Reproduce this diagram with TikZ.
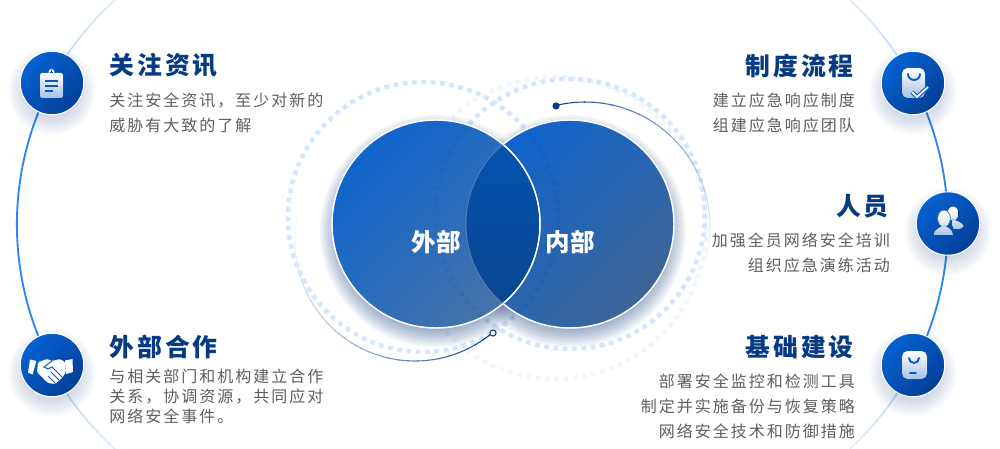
\documentclass[tikz,border=0pt]{standalone}
\usepackage{fontspec}
\usetikzlibrary{positioning,calc,backgrounds}
\newfontfamily\zhtext[LetterSpace=12.5]{Noto Sans CJK SC}
\newfontfamily\zhplain{Noto Sans CJK SC}
\definecolor{ringblue}{HTML}{2B85F5}
\definecolor{paleblue}{HTML}{B4D2FA}
\definecolor{dotblue}{HTML}{D4E5FE}
\definecolor{faintblue}{HTML}{F1F6FE}
\definecolor{headblue}{HTML}{063A82}
\definecolor{thinblue}{HTML}{0A3F8F}
\definecolor{bodygray}{HTML}{5E5E5E}
\definecolor{shadowblue}{HTML}{1F4480}
\definecolor{iconblue}{HTML}{0A57BE}
\definecolor{glyphblue}{HTML}{A4C2EA}
\definecolor{glyphmid}{HTML}{D8E5F7}
\definecolor{iconstart}{HTML}{0662D2}
\definecolor{iconend}{HTML}{023F97}
\definecolor{vennstart}{HTML}{1064CC}
\definecolor{waiend}{HTML}{4573A8}
\definecolor{neiend}{HTML}{3C6597}
\definecolor{lensstart}{HTML}{0454B4}
\definecolor{lensend}{HTML}{0A458C}
% arc that fades: centre, radius, from angle, to angle, colour, first %, last %, width
\newcommand{\fadearc}[8]{%
  \foreach \k in {0,...,29}{%
    \pgfmathsetmacro{\aa}{#3+(#4-#3)*\k/30}
    \pgfmathsetmacro{\ab}{#3+(#4-#3)*(\k+1.2)/30}
    \pgfmathsetmacro{\pc}{#7+(#6-#7)*(1-\k/29)^1.4}
    \draw[#5!\pc!white, line width=#8] ($(#1)+(\aa:#2)$) arc[start angle=\aa, end angle=\ab, radius=#2];
  }}
\newcommand{\softshadow}[5]{%
  \foreach \r in {#3,...,#4}
    \fill[shadowblue, opacity=#5] ([yshift=-#2pt]#1.center) circle[radius=\r];}
\begin{document}
\begin{tikzpicture}[
x=0.75pt, y=-0.75pt,
iconball/.style={circle, draw=white, line width=0.8pt, minimum size=47.6pt, inner sep=0pt, top color=iconstart, bottom color=iconend, shading angle=45},
venn/.style={circle, draw=white, line width=1.1pt, minimum size=156pt, inner sep=0pt},
vennlabel/.style={text=white, font=\zhplain\bfseries\fontsize{18.4}{20}\selectfont, inner sep=0pt},
headl/.style={anchor=west, text=headblue, inner sep=0pt, font=\zhtext\bfseries\fontsize{18.6}{20}\selectfont},
headr/.style={anchor=east, text=headblue, inner sep=0pt, font=\zhtext\bfseries\fontsize{18.6}{20}\selectfont},
bodyl/.style={anchor=north west, align=left, text=bodygray, inner sep=0pt, font=\zhtext\fontsize{12}{18.75}\selectfont},
bodyr/.style={anchor=north east, align=right, text=bodygray, inner sep=0pt, font=\zhtext\fontsize{12}{18.75}\selectfont},
dotring/.style={dotblue, line width=3.4pt, dash pattern=on 3.5pt off 3.5pt},
glyph/.style={top color=white, bottom color=glyphblue},
enddot/.style={circle, fill=thinblue, minimum size=5.4pt, inner sep=0pt},
endring/.style={circle, draw=thinblue, fill=white, line width=0.8pt, minimum size=4.6pt, inner sep=0pt}
]
\useasboundingbox (0,0) rectangle (1000,449);
\coordinate (lefto) at (317,224.5);
\coordinate (righto) at (642,224.5);
\coordinate (ringa) at (423,217);
\coordinate (ringb) at (570,214);
\coordinate (ringc) at (555,228);
\coordinate (archin) at (585,227);
\coordinate (archout) at (415,241);

% dotted rings
\draw[faintblue, line width=3.4pt, dash pattern=on 3.5pt off 3.5pt] (ringc) circle[radius=151];
\draw[dotring] (ringa) circle[radius=135];
\draw[dotring] (ringb) circle[radius=135];

% venn circles
\foreach \r in {116,114,...,100}
  \fill[shadowblue, opacity=0.055] ($(436,224)+(0,7)$) circle[radius=\r];
\foreach \r in {116,114,...,100}
  \fill[shadowblue, opacity=0.055] ($(570,224)+(0,7)$) circle[radius=\r];
\node[venn, top color=vennstart, bottom color=neiend, shading angle=45] (nei) at (570,224) {};
\node[venn, top color=vennstart, bottom color=waiend, shading angle=45] (wai) at (436,224) {};
\begin{scope}
\clip (nei.center) circle[radius=103];
\draw[dotring, draw=iconblue, opacity=0.28] (ringa) circle[radius=135];
\end{scope}
\begin{scope}
\clip (wai.center) circle[radius=103];
\draw[dotring, draw=iconblue, opacity=0.16] (ringb) circle[radius=135];
\fill[top color=lensstart, bottom color=lensend] (nei.center) circle[radius=104];
\draw[white, opacity=0.3, line width=0.6pt] (nei.center) circle[radius=104];
\end{scope}
\begin{scope}
\clip (nei.center) circle[radius=104];
\draw[white, opacity=0.7, line width=1.1pt] (wai.center) circle[radius=104];
\end{scope}
\node[vennlabel] (wailabel) at (436,242) {外部};
\node[vennlabel] (neilabel) at (570,242) {内部};

% thin arcs
\fadearc{archin}{125}{256.5}{385}{thinblue}{100}{3}{0.8pt}
\fadearc{archout}{120}{49.7}{193}{thinblue}{100}{3}{0.8pt}
\node[enddot] (dotin) at (556,106) {};
\node[endring] (ringout) at (493,333) {};

% side icons
\node[iconball] (zixun) at (52,83) {};
\node[iconball] (hezuo) at (52,365) {};
\node[iconball] (zhidu) at (913,83) {};
\node[iconball] (renyuan) at (948,223.5) {};
\node[iconball] (jichu) at (913,365) {};
\begin{scope}[on background layer]
\fadearc{lefto}{302}{208}{232}{paleblue}{100}{35}{1.3pt}
\fadearc{lefto}{302}{152}{128}{paleblue}{100}{35}{1.3pt}
\fadearc{righto}{306}{-27.6}{-50}{paleblue}{100}{35}{1.3pt}
\fadearc{righto}{306}{27.6}{50}{paleblue}{100}{35}{1.3pt}
\draw[ringblue, line width=1.4pt] (zixun.center) arc[start angle=207.9, end angle=152.1, radius=302];
\draw[ringblue, line width=1.4pt] (zhidu.center) arc[start angle=-27.6, end angle=27.6, radius=306];
\softshadow{zixun}{6}{44,42}{28}{0.025}
\softshadow{hezuo}{6}{44,42}{28}{0.025}
\softshadow{zhidu}{6}{44,42}{28}{0.025}
\softshadow{renyuan}{6}{44,42}{28}{0.025}
\softshadow{jichu}{6}{44,42}{28}{0.025}
\end{scope}

% clipboard
\begin{scope}[shift={(zixun.center)}]
\fill[white] (-0.5,-11) circle[radius=3];
\fill[glyph, rounded corners=1.5pt] (-12,-10) rectangle (11,15);
\draw[iconblue, line width=1pt] (-7,-2) -- (6,-2) (-7,3) -- (6,3) (-7,8) -- (1,8);
\draw[iconblue, line width=0.5pt] (-2,-11) -- (1,-11) (-0.5,-12.5) -- (-0.5,-9.5);
\end{scope}
% bag with check
\begin{scope}[shift={(zhidu.center)}]
\fill[glyph, rounded corners=4pt] (-11,-15) rectangle (12,15);
\draw[iconblue, line width=1.4pt, line cap=round] (-5,-9) arc[start angle=180, end angle=0, radius=6];
\draw[iconblue, line width=3pt] (-1,9) -- (4,14) -- (15,4);
\draw[white!85!glyphblue, line width=1.4pt] (-1,9) -- (4,14) -- (15,4);
\end{scope}
% bag with bar
\begin{scope}[shift={(jichu.center)}]
\fill[glyph, rounded corners=4pt] (-11,-14) rectangle (14,14);
\draw[iconblue, line width=1.4pt, line cap=round] (-4,-7) arc[start angle=180, end angle=0, radius=5];
\draw[iconblue, line width=1.4pt, line cap=round] (-3,8) -- (3,8);
\end{scope}
% two people
\begin{scope}[shift={(renyuan.center)}]
\fill[top color=white, bottom color=glyphmid] (5,-10) ellipse[x radius=5.5, y radius=7];
\fill[top color=glyphmid, bottom color=glyphblue] (4,-4) .. controls (9,-3) and (15,-1) .. (15.5,3) .. controls (14,6) and (8,6) .. (5,5) -- cycle;
\fill[iconblue!60!glyphblue] (-4,-5) ellipse[x radius=6.8, y radius=8.8];
\fill[top color=white, bottom color=glyphmid] (-4,-5) ellipse[x radius=6, y radius=8];
\fill[top color=glyphmid, bottom color=glyphblue] (-14.5,11.5) .. controls (-14,6) and (-9,4) .. (-4,2) .. controls (0,4) and (5,6) .. (5,11.5) -- cycle;
\end{scope}
% handshake
\begin{scope}[shift={(hezuo.center)}]
\fill[white!95!glyphblue] (-22,-5.5) -- (-15.5,-4) -- (-19.5,9.5) -- (-24,7.5) -- cycle;
\fill[white!95!glyphblue] (13,-4.5) -- (20.5,-6) -- (21,7) -- (14,9) -- cycle;
\fill[white!95!glyphblue, rounded corners=1pt] (-14,-3) -- (-5,-6) -- (0,-4) -- (8,-6) -- (13,-3) -- (14,7) -- (10,13) -- (3,19) -- (-4,18) -- (-15,7) -- cycle;
\draw[iconblue, line width=0.7pt] (10,12) -- (0,2) -- (-4,4) -- (-8,2) -- (0,-4) (7,15) -- (-1,7) (3,18) -- (-4,11);
\end{scope}

% text
\node[headl] (zixunhead) at (109,65.5) {关注资讯};
\node[bodyl, below=11pt of zixunhead.south west, anchor=north west] (zixuntext) {关注安全资讯，至少对新的\\威胁有大致的了解};
\node[headl] (hezuohead) at (109,347) {外部合作};
\node[bodyl, below=7pt of hezuohead.south west, anchor=north west, font=\zhtext\fontsize{12}{15}\selectfont] (hezuotext) {与相关部门和机构建立合作\\关系，协调资源，共同应对\\网络安全事件。};
\node[headr] (zhiduhead) at (854,65.5) {制度流程};
\node[bodyr, below=11pt of zhiduhead.south east, anchor=north east, xshift=0.8pt] (zhidutext) {建立应急响应制度\\组建应急响应团队};
\node[headr] (renyuanhead) at (889,206) {人员};
\node[bodyr, below=11pt of renyuanhead.south east, anchor=north east, xshift=0.8pt] (renyuantext) {加强全员网络安全培训\\组织应急演练活动};
\node[headr] (jichuhead) at (854,347) {基础建设};
\node[bodyr, below=11pt of jichuhead.south east, anchor=north east, xshift=0.8pt] (jichutext) {部署安全监控和检测工具\\制定并实施备份与恢复策略\\网络安全技术和防御措施};
\end{tikzpicture}
\end{document}
